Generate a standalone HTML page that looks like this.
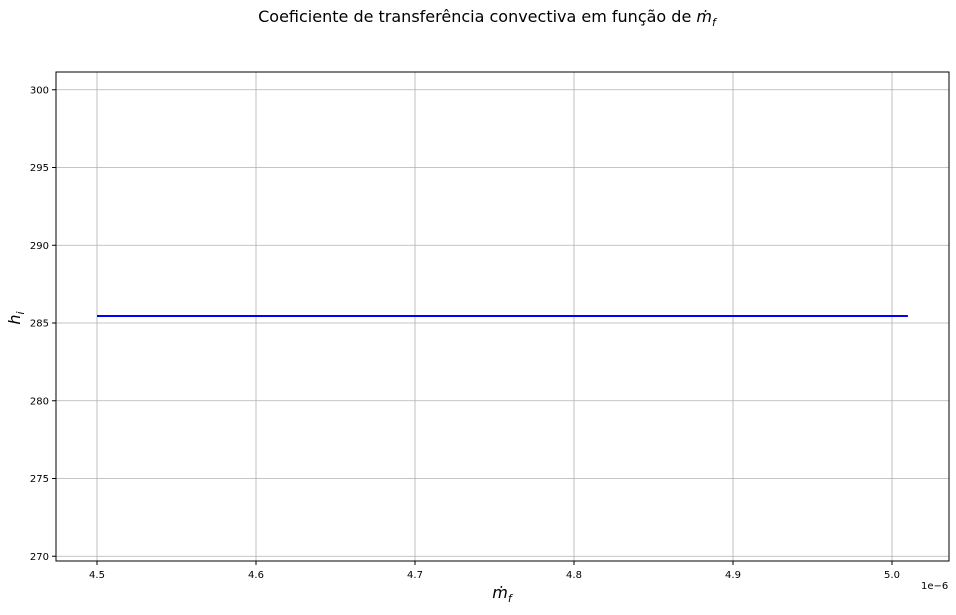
<!DOCTYPE html>
<html><head><meta charset="utf-8"><style>
body{margin:0;background:#fff;font-family:"Liberation Sans","DejaVu Sans",sans-serif}
</style></head><body>
<svg width="956" height="610" xmlns="http://www.w3.org/2000/svg" style="font-family:'DejaVu Sans','Liberation Sans',sans-serif">
<text x="487" y="22" text-anchor="middle" font-size="16">Coeficiente de transferência convectiva em função de <tspan font-style="italic">ṁ</tspan><tspan font-style="italic" font-size="11" dy="4">f</tspan></text>
<g id="grid"></g>
<g id="ticks"></g>
<g id="series"></g>
<rect x="56" y="72" width="893" height="489" fill="none" stroke="#000" stroke-width="1"/>
<text x="921" y="589" font-size="10">1e−6</text>
<text x="502" y="598" text-anchor="middle" font-size="16" font-style="italic">ṁ<tspan font-size="11" dy="4">f</tspan></text>
<text transform="translate(20,318) rotate(-90)" text-anchor="middle" font-size="16" font-style="italic">h<tspan font-size="11" dy="4">i</tspan></text>
</svg>
<script>
const xTicks=[4.5,4.6,4.7,4.8,4.9,5.0];
const xTickLabels=["4.5","4.6","4.7","4.8","4.9","5.0"];
const yTicks=[270,275,280,285,290,295,300];
const yTickLabels=["270","275","280","285","290","295","300"];
const seriesX=[4.5,5.01];
const seriesY=[285.45,285.45];
const L=56,R=949,T=72,B=561;
function xs(v){return 97+(v-4.5)*1590;}
function ys(v){return 323-(v-285)*15.55;}
const NS="http://www.w3.org/2000/svg";
function mk(tag,at,parent){const e=document.createElementNS(NS,tag);for(const k in at)e.setAttribute(k,at[k]);parent.appendChild(e);return e;}
const grid=document.getElementById('grid'),ticks=document.getElementById('ticks'),series=document.getElementById('series');
xTicks.forEach((v,i)=>{const x=xs(v);
 const g=mk('line',{x1:x,x2:x,y1:T,y2:B,stroke:'#b0b0b0','stroke-width':0.8},grid);
 
 
 const t=mk('line',{x1:x,x2:x,y1:B,y2:B+4,stroke:'#000'},ticks);
 
 
 const tx=mk('text',{x:x,y:B+17,'text-anchor':'middle','font-size':10},ticks);tx.textContent=xTickLabels[i];
 
 
});
yTicks.forEach((v,i)=>{const y=ys(v);
 const g=mk('line',{x1:L,x2:R,y1:y,y2:y,stroke:'#b0b0b0','stroke-width':0.8},grid);
 
 
 const t=mk('line',{x1:L-4,x2:L,y1:y,y2:y,stroke:'#000'},ticks);
 
 
 const tx=mk('text',{x:L-7,y:y+3.5,'text-anchor':'end','font-size':10},ticks);tx.textContent=yTickLabels[i];
 
 
});
const pts=seriesX.map((v,i)=>xs(v)+','+ys(seriesY[i])).join(' ');
const pl=mk('polyline',{points:pts,fill:'none',stroke:'#0000ff','stroke-width':2},series);


</script>
</body></html>
